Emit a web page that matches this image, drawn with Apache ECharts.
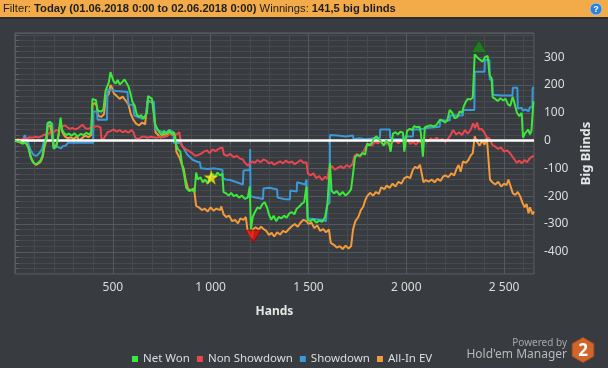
<!DOCTYPE html>
<html><head><meta charset="utf-8">
<script src="https://cdn.jsdelivr.net/npm/echarts@6/dist/echarts.min.js"></script>
<style>html,body{margin:0;padding:0;background:#383b3f;}#c{width:608px;height:368px;}</style>
</head><body><div id="c"></div>
<script>
const legendNames = ['Net Won', 'Non Showdown', 'Showdown', 'All-In EV'];
const xTicksMajor = [500, 1000, 1500, 2000, 2500];
const yTicksMajor = [-400, -300, -200, -100, 0, 100, 200, 300];

const netWon = [[0,0],[12,-4],[25,-2],[38,-12],[50,-6],[62,-15],[70,-30],[80,-60],[92,-78],[105,-85],[118,-80],[130,-72],[140,-55],[148,-20],[160,10],[167,62],[178,68],[186,60],[192,10],[198,-30],[210,-20],[222,20],[233,83],[240,40],[250,28],[262,20],[275,25],[290,18],[305,26],[320,15],[335,24],[350,20],[365,28],[378,22],[390,30],[396,150],[405,155],[414,145],[422,108],[430,110],[440,104],[452,112],[463,180],[472,175],[480,210],[488,246],[496,240],[503,215],[515,205],[525,218],[535,202],[548,210],[560,220],[570,215],[580,195],[590,170],[600,140],[612,125],[622,95],[632,85],[645,92],[655,78],[665,88],[675,100],[680,160],[690,158],[700,150],[708,156],[716,60],[725,45],[738,30],[750,20],[762,35],[775,22],[788,38],[800,25],[812,30],[822,-10],[832,-30],[845,-40],[855,-90],[865,-125],[875,-170],[890,-182],[905,-178],[918,-185],[926,-115],[935,-140],[948,-132],[960,-150],[972,-140],[985,-155],[998,-128],[1010,-120],[1022,-130],[1035,-115],[1048,-125],[1060,-120],[1066,-185],[1080,-190],[1092,-198],[1105,-188],[1118,-200],[1132,-195],[1145,-205],[1160,-198],[1175,-210],[1190,-205],[1200,-165],[1206,-320],[1215,-275],[1228,-255],[1240,-240],[1252,-245],[1265,-228],[1276,-222],[1288,-240],[1298,-265],[1310,-285],[1322,-270],[1335,-290],[1348,-275],[1362,-280],[1375,-270],[1388,-278],[1402,-262],[1415,-258],[1428,-265],[1440,-245],[1452,-238],[1465,-228],[1478,-222],[1490,-165],[1496,-285],[1510,-290],[1525,-283],[1540,-295],[1555,-288],[1570,-292],[1585,-275],[1597,-230],[1605,-225],[1610,-80],[1618,-180],[1630,-190],[1645,-182],[1660,-196],[1675,-185],[1690,-198],[1705,-188],[1718,-175],[1728,-120],[1738,-60],[1750,-52],[1763,-55],[1775,-45],[1790,-50],[1800,-10],[1812,-18],[1825,-8],[1835,8],[1848,15],[1860,5],[1872,-5],[1885,-18],[1898,0],[1912,-10],[1920,-40],[1932,25],[1945,30],[1958,22],[1970,32],[1983,28],[1990,-40],[2004,35],[2018,42],[2030,38],[2040,52],[2055,48],[2068,50],[2075,25],[2085,-58],[2095,48],[2110,52],[2125,55],[2140,50],[2155,57],[2165,52],[2172,75],[2185,72],[2198,65],[2210,72],[2222,110],[2235,100],[2248,80],[2262,85],[2273,105],[2285,100],[2295,125],[2305,140],[2315,150],[2328,148],[2340,155],[2350,310],[2362,300],[2375,292],[2390,284],[2402,300],[2416,305],[2426,235],[2436,225],[2442,155],[2455,150],[2468,142],[2480,152],[2495,145],[2508,150],[2520,130],[2532,125],[2544,158],[2555,130],[2566,100],[2578,88],[2590,100],[2597,10],[2606,25],[2615,18],[2624,40],[2632,22],[2640,35],[2646,30],[2650,141.5]];

const showdown = [[0,0],[20,0],[40,2],[50,20],[60,15],[68,-10],[80,-35],[95,-52],[110,-55],[125,-45],[138,-30],[147,-5],[160,10],[167,65],[190,62],[197,-25],[215,-22],[235,-28],[245,-20],[260,-18],[270,-8],[400,-8],[401,105],[420,105],[422,75],[470,75],[473,183],[520,178],[575,175],[580,130],[605,128],[610,90],[630,85],[650,78],[670,92],[677,140],[710,140],[718,40],[740,35],[765,28],[790,38],[810,30],[812,-8],[850,-10],[856,-20],[868,-35],[880,-50],[895,-60],[910,-70],[932,-76],[945,-78],[950,-100],[985,-102],[1020,-100],[1060,-105],[1062,-133],[1075,-140],[1100,-142],[1126,-148],[1130,-155],[1165,-158],[1168,-108],[1200,-106],[1202,-30],[1204,-200],[1230,-205],[1268,-210],[1270,-172],[1300,-170],[1340,-176],[1342,-205],[1375,-210],[1405,-212],[1407,-180],[1440,-183],[1442,-150],[1470,-155],[1483,-158],[1490,-140],[1496,-280],[1530,-282],[1565,-285],[1590,-290],[1595,-230],[1608,-225],[1610,20],[1650,18],[1690,15],[1728,18],[1730,5],[1760,8],[1790,5],[1800,10],[1865,10],[1867,40],[1916,40],[1918,10],[1935,5],[1993,5],[1995,15],[2034,15],[2036,40],[2069,40],[2071,45],[2105,45],[2107,50],[2171,50],[2173,72],[2222,72],[2224,90],[2289,90],[2291,110],[2348,110],[2350,248],[2400,248],[2402,290],[2425,290],[2427,220],[2440,220],[2442,165],[2490,162],[2543,162],[2545,190],[2568,190],[2570,115],[2590,118],[2595,108],[2610,112],[2625,105],[2632,120],[2645,120],[2646,190],[2653,190]];

const nonShowdown = [[0,0],[15,5],[30,2],[45,8],[60,6],[75,12],[90,10],[105,14],[120,11],[135,15],[150,22],[165,20],[180,30],[195,28],[210,38],[225,35],[240,50],[255,55],[268,48],[280,42],[295,45],[310,40],[325,46],[345,57],[360,44],[375,42],[390,47],[405,50],[420,52],[437,48],[442,5],[455,8],[473,30],[490,35],[505,40],[520,32],[535,38],[550,30],[565,35],[580,28],[595,38],[606,30],[615,10],[630,5],[645,12],[660,15],[677,10],[695,14],[710,12],[725,10],[740,15],[760,12],[780,18],[795,25],[810,28],[825,22],[840,30],[850,-15],[862,-25],[875,-32],[890,-38],[905,-45],[920,-55],[935,-52],[950,-48],[965,-40],[980,-35],[995,-45],[1010,-32],[1025,-38],[1040,-30],[1060,-25],[1068,-50],[1085,-55],[1100,-48],[1118,-60],[1135,-55],[1150,-65],[1165,-68],[1175,-80],[1190,-90],[1200,-93],[1212,-75],[1225,-80],[1240,-70],[1255,-78],[1270,-68],[1285,-72],[1298,-82],[1312,-78],[1325,-87],[1340,-80],[1355,-75],[1370,-82],[1385,-72],[1400,-80],[1415,-75],[1430,-85],[1445,-78],[1460,-70],[1475,-80],[1490,-78],[1497,-118],[1510,-125],[1525,-118],[1540,-135],[1555,-128],[1570,-142],[1585,-130],[1597,-138],[1605,-100],[1620,-92],[1635,-105],[1650,-98],[1665,-92],[1680,-100],[1695,-88],[1710,-95],[1725,-85],[1735,-55],[1750,-48],[1765,-58],[1780,-40],[1795,-20],[1810,-12],[1825,-18],[1840,-5],[1855,-10],[1870,-2],[1885,-15],[1900,-8],[1915,-18],[1930,-5],[1945,0],[1960,-10],[1975,2],[1990,-8],[2005,5],[2020,-12],[2035,-5],[2050,-15],[2065,-2],[2080,-8],[2095,5],[2110,-3],[2125,8],[2140,2],[2155,10],[2170,0],[2185,6],[2200,-5],[2215,8],[2225,18],[2240,38],[2255,22],[2270,30],[2285,20],[2300,38],[2315,25],[2330,40],[2342,62],[2352,45],[2362,65],[2372,40],[2385,42],[2398,30],[2412,12],[2425,8],[2440,-15],[2455,-22],[2470,-30],[2485,-25],[2500,-40],[2515,-35],[2530,-45],[2545,-60],[2555,-70],[2565,-80],[2578,-72],[2590,-82],[2605,-70],[2618,-78],[2630,-65],[2642,-58],[2653,-55]];

const allInEV = [[0,0],[15,-3],[30,-8],[45,-5],[60,-12],[70,-28],[82,-62],[95,-80],[108,-88],[120,-82],[132,-75],[142,-58],[150,-25],[162,5],[167,52],[180,55],[190,48],[196,-15],[210,-25],[222,15],[233,68],[242,30],[255,15],[270,8],[285,12],[300,5],[315,15],[330,0],[345,10],[360,18],[375,12],[390,20],[396,130],[408,135],[418,125],[424,90],[440,85],[455,95],[465,160],[478,165],[488,200],[496,190],[505,170],[520,160],[535,150],[550,158],[565,145],[580,130],[592,95],[605,75],[620,60],[635,55],[650,65],[665,58],[678,145],[692,140],[706,135],[718,30],[732,20],[745,10],[760,25],[775,15],[790,30],[805,20],[818,25],[825,-40],[840,-60],[852,-85],[862,-100],[872,-140],[885,-175],[900,-178],[915,-172],[926,-235],[940,-240],[955,-250],[970,-245],[985,-255],[1000,-240],[1015,-252],[1030,-245],[1048,-250],[1055,-237],[1066,-265],[1080,-275],[1095,-270],[1110,-290],[1125,-285],[1140,-298],[1152,-280],[1168,-285],[1180,-275],[1188,-320],[1200,-340],[1210,-350],[1218,-318],[1230,-312],[1245,-320],[1258,-310],[1270,-318],[1285,-325],[1298,-340],[1312,-332],[1325,-345],[1340,-330],[1355,-338],[1370,-325],[1385,-330],[1400,-318],[1415,-308],[1430,-300],[1445,-310],[1460,-295],[1475,-285],[1490,-290],[1500,-300],[1515,-295],[1530,-315],[1545,-305],[1560,-325],[1575,-318],[1590,-330],[1605,-320],[1614,-368],[1630,-375],[1645,-385],[1660,-380],[1675,-390],[1690,-378],[1705,-388],[1718,-380],[1728,-320],[1740,-290],[1755,-275],[1768,-250],[1780,-238],[1790,-215],[1800,-200],[1815,-188],[1830,-198],[1845,-185],[1860,-192],[1872,-168],[1888,-175],[1900,-162],[1915,-170],[1930,-155],[1945,-165],[1960,-148],[1975,-155],[1990,-135],[2005,-130],[2020,-135],[2034,-105],[2045,-95],[2058,-100],[2070,-87],[2080,-92],[2088,-150],[2100,-142],[2115,-148],[2130,-140],[2145,-150],[2160,-138],[2175,-145],[2188,-130],[2200,-125],[2215,-132],[2230,-118],[2245,-125],[2258,-100],[2268,-88],[2278,-112],[2290,-75],[2305,-80],[2318,-70],[2328,-55],[2340,-45],[2350,15],[2362,-5],[2375,-18],[2388,0],[2400,-15],[2412,10],[2420,5],[2428,-140],[2440,-150],[2455,-158],[2470,-148],[2485,-165],[2500,-155],[2513,-160],[2522,-140],[2532,-145],[2545,-190],[2558,-195],[2570,-185],[2582,-200],[2595,-225],[2605,-240],[2615,-228],[2625,-262],[2632,-240],[2640,-255],[2646,-265],[2653,-255]];

const starPoint = [[1003, -132]];
const minPoint = [[1219, -344]];
const maxPoint = [[2372, 339]];

const colors = { net: '#3be83b', nsd: '#e8474f', sd: '#3a9ad9', ev: '#f39a3b' };
const MINOR = '#46494e', MAJOR = '#55585d';

function fmtHands(v) {
  if (v <= 0 || xTicksMajor.indexOf(v) < 0) return '';
  if (v >= 1000) return Math.floor(v / 1000) + ' ' + String(v % 1000).padStart(3, '0');
  return String(v);
}
function fmtBB(v) { return yTicksMajor.indexOf(v) >= 0 ? String(v) : ''; }

const chart = echarts.init(document.getElementById('c'), null, { renderer: 'canvas' });
const lineBase = { type: 'line', showSymbol: false, symbol: 'none', animation: false, lineStyle: { width: 2 }, emphasis: { disabled: true } };
const hexPts = [];
for (let i = 0; i < 6; i++) { const a = Math.PI / 180 * (60 * i - 90); hexPts.push([583 + 12.5 * Math.cos(a), 350 + 12.5 * Math.sin(a)]); }

chart.setOption({
  backgroundColor: '#383b3f',
  animation: false,
  textStyle: { fontFamily: 'Noto Sans' },
  grid: { left: 15, right: 74, top: 33, bottom: 94, show: true, borderColor: '#5f6267', borderWidth: 1, backgroundColor: 'transparent' },
  legend: {
    data: legendNames, left: 127, top: 348, icon: 'rect', itemWidth: 6, itemHeight: 6, itemGap: 7,
    textStyle: { color: '#dddddd', fontSize: 11.5, fontFamily: 'Noto Sans', padding: [0, 0, 0, 0] }, selectedMode: false
  },
  xAxis: {
    type: 'value', min: 0, max: 2653, interval: 100,
    name: 'Hands', nameLocation: 'middle', nameGap: 32,
    nameTextStyle: { color: '#e6e6e6', fontWeight: 'bold', fontSize: 12 },
    axisLine: { show: false },
    axisTick: { show: true, length: 4, lineStyle: { color: '#5f6267' } },
    axisLabel: { color: '#dddddd', fontSize: 12, margin: 8, formatter: fmtHands, showMinLabel: false, showMaxLabel: false },
    splitLine: { show: true, lineStyle: { color: [MAJOR, MINOR, MINOR, MINOR, MINOR], width: 1 } }
  },
  yAxis: {
    type: 'value', position: 'right', min: -480, max: 387, interval: 20,
    name: 'Big Blinds', nameLocation: 'middle', nameGap: 42, nameRotate: 90,
    nameTextStyle: { color: '#e6e6e6', fontWeight: 'bold', fontSize: 13 },
    axisLine: { show: false },
    axisTick: { show: true, length: 4, lineStyle: { color: '#5f6267' } },
    axisLabel: { color: '#dddddd', fontSize: 12, margin: 10, formatter: fmtBB, showMinLabel: false, showMaxLabel: false },
    splitLine: { show: true, lineStyle: { color: [MINOR, MINOR, MINOR, MINOR, MAJOR], width: 1 } }
  },
  series: [
    Object.assign({}, lineBase, { name: 'All-In EV', data: allInEV, color: colors.ev, z: 2 }),
    Object.assign({}, lineBase, { name: 'Showdown', data: showdown, color: colors.sd, z: 3 }),
    Object.assign({}, lineBase, { name: 'Non Showdown', data: nonShowdown, color: colors.nsd, z: 4 }),
    Object.assign({}, lineBase, { name: 'Net Won', data: netWon, color: colors.net, z: 5,
      markLine: { silent: true, symbol: ['none', 'none'], label: { show: false }, animation: false,
        lineStyle: { color: '#ffffff', width: 2.5, type: 'solid' }, emphasis: { disabled: true }, data: [{ yAxis: 0 }] } }),
    { type: 'scatter', name: 'star', data: starPoint, z: 10, animation: false, silent: true,
      symbol: 'path://M50,0 L61,35 L98,35 L68,57 L79,91 L50,70 L21,91 L32,57 L2,35 L39,35 Z', symbolSize: 14,
      itemStyle: { color: '#fff21a', borderColor: '#c9b800', borderWidth: 0.5 } },
    { type: 'scatter', name: 'min', data: minPoint, z: 10, animation: false, silent: true,
      symbol: 'triangle', symbolRotate: 180, symbolSize: [15, 12], itemStyle: { color: '#e51414', borderColor: '#9a0a0a', borderWidth: 1 } },
    { type: 'scatter', name: 'max', data: maxPoint, z: 10, animation: false, silent: true,
      symbol: 'triangle', symbolSize: [15, 12], itemStyle: { color: '#1f861f', borderColor: '#0f5a0f', borderWidth: 1 } }
  ],
  graphic: [
    { type: 'rect', shape: { x: 0, y: 0, width: 608, height: 17 }, style: { fill: '#f2ab48' }, z: 100 },
    { type: 'rect', shape: { x: 0, y: 17, width: 608, height: 2 }, style: { fill: '#2b2d30' }, z: 100 },
    { type: 'text', x: 3, y: 9, z: 101, style: {
        text: '{a|Filter: }{b|Today (01.06.2018 0:00 to 02.06.2018 0:00)}{a| Winnings: }{b|141,5 big blinds}',
        verticalAlign: 'middle',
        rich: { a: { fontSize: 11.2, fontFamily: 'Liberation Sans', fill: '#1e1e1e' }, b: { fontSize: 11.2, fontFamily: 'Liberation Sans', fontWeight: 'bold', fill: '#1e1e1e' } } } },
    { type: 'circle', shape: { cx: 596, cy: 9, r: 6 }, style: { fill: '#2f7fd6', stroke: '#9cc6f0', lineWidth: 1 }, z: 101 },
    { type: 'text', x: 596, y: 9.5, z: 102, style: { text: '?', fill: '#ffffff', font: 'bold 9px Liberation Sans', align: 'center', verticalAlign: 'middle' } },
    { type: 'text', x: 567, y: 343, z: 101, style: { text: 'Powered by', fill: '#a8a8a8', font: '10px Noto Sans', align: 'right', verticalAlign: 'middle' } },
    { type: 'text', x: 567, y: 355, z: 101, style: { text: "Hold'em Manager", fill: '#b8b8b8', font: '12px Noto Sans', align: 'right', verticalAlign: 'middle' } },
    { type: 'polygon', shape: { points: hexPts }, style: { fill: '#d0662b', stroke: '#a84d1c', lineWidth: 1 }, z: 101 },
    { type: 'text', x: 583, y: 351, z: 102, style: { text: '2', fill: '#ffffff', font: 'bold 17px Noto Sans', align: 'center', verticalAlign: 'middle' } }
  ]
});
</script></body></html>
